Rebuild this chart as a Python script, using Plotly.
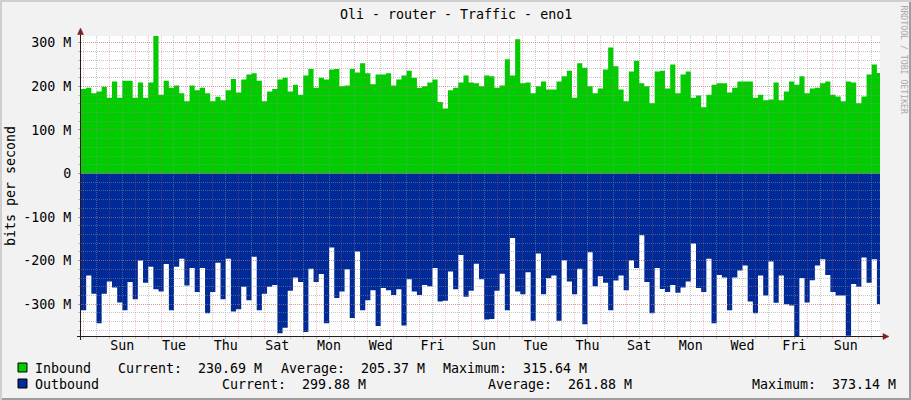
import plotly.graph_objects as go
from datetime import datetime, timedelta

# ---------------- data ----------------
TITLE = "Oli - router - Traffic - eno1"
Y_TITLE = "bits per second"
WATERMARK = "RRDTOOL / TOBI OETIKER"

START = datetime(2024, 3, 1, 21, 38)   # first sample (left edge of graph)
STEP_HOURS = 4.8
RANGE_DAYS = 30.92

INBOUND = [
    194, 197, 184, 188, 199, 174, 211, 174, 213, 213,
    174, 209, 174, 209, 315.64, 181, 213, 197, 202, 184,
    166, 202, 191, 197, 184, 166, 176, 168, 191, 217,
    186, 216, 227, 230, 213, 166, 188, 194, 216, 220,
    188, 204, 181, 225, 240, 197, 220, 216, 239, 240,
    200, 202, 240, 232, 253, 230, 205, 227, 227, 230,
    202, 216, 225, 236, 220, 197, 200, 209, 216, 164,
    149, 191, 197, 209, 225, 209, 207, 200, 225, 223,
    197, 202, 262, 225, 308, 207, 209, 184, 200, 211,
    193, 193, 211, 223, 236, 174, 253, 243, 200, 184,
    195, 239, 289, 246, 193, 166, 234, 259, 207, 200,
    161, 234, 236, 195, 250, 184, 227, 234, 174, 179,
    152, 181, 204, 207, 207, 186, 197, 211, 211, 211,
    174, 181, 168, 170, 209, 168, 188, 211, 204, 223,
    184, 195, 197, 207, 211, 181, 177, 166, 211, 209,
    161, 177, 227, 250, 230.69,
]

OUTBOUND = [
    314, 234, 276, 344, 276, 248, 262, 296, 314, 249,
    289, 200, 251, 214, 266, 271, 208, 314, 214, 196,
    257, 217, 272, 217, 321, 272, 205, 289, 196, 317,
    312, 260, 291, 191, 314, 276, 260, 256, 367, 354,
    269, 239, 249, 364, 219, 249, 231, 344, 170, 286,
    271, 220, 332, 179, 314, 291, 268, 350, 263, 268,
    279, 266, 349, 243, 271, 279, 256, 259, 217, 294,
    292, 225, 266, 187, 283, 269, 207, 243, 335, 334,
    269, 230, 314, 148, 271, 277, 227, 338, 184, 277,
    240, 234, 338, 199, 248, 277, 219, 346, 181, 259,
    236, 251, 314, 246, 234, 268, 199, 217, 142, 249,
    321, 217, 265, 272, 256, 274, 262, 248, 161, 263,
    272, 196, 344, 233, 239, 314, 239, 223, 211, 294,
    321, 234, 280, 202, 297, 234, 300, 303, 373.14, 240,
    296, 245, 211, 197, 233, 272, 280, 280, 372.8, 254,
    260, 193, 251, 197, 299.88,
]

Y_TICKS = [-300, -200, -100, 0, 100, 200, 300]
Y_TICK_TEXT = ["-300 M", "-200 M", "-100 M", "0", "100 M", "200 M", "300 M"]
FIRST_LABEL_NOON = datetime(2024, 3, 3, 12)
DAY_LABELS = ["Sun", "Tue", "Thu", "Sat", "Mon", "Wed", "Fri", "Sun",
              "Tue", "Thu", "Sat", "Mon", "Wed", "Fri", "Sun"]
FIRST_MIDNIGHT = "2024-03-03 00:00"

IN_NAME, OUT_NAME = "Inbound", "Outbound"
IN_STATS = [("Current", 230.69), ("Average", 205.37), ("Maximum", 315.64)]
OUT_STATS = [("Current", 299.88), ("Average", 261.88), ("Maximum", 373.14)]
Y_MIN, Y_MAX = -373.14, 315.64

# ---------------- style ----------------
GREEN = "#00CC00"
BLUE = "#002A97"
BACK = "#F2F2F2"
SHADE_A = "#CFCFCF"
SHADE_B = "#9E9E9E"
GRID = "rgba(143,143,143,0.5)"
MGRID = "rgba(222,79,79,0.36)"
ARROW = "#801F1F"
AXIS = "#1F1F1F"
FONT = "DejaVu Sans Mono"
FS = 13.3

W, H = 911, 400
L, R, T, B = 81, 880, 36, 336


def px(x):
    return (x - L) / (R - L)


def py(y):
    return (B - y) / (B - T)


def nb(s):
    return s.replace(" ", "\u00a0")


times = [START + timedelta(hours=STEP_HOURS * i) for i in range(len(INBOUND) + 1)]
x_range = [START, START + timedelta(days=RANGE_DAYS)]

fig = go.Figure()
fig.add_trace(go.Scatter(
    x=times, y=INBOUND + [INBOUND[-1]], mode="lines", line=dict(width=0, shape="hv", color=GREEN),
    fill="tozeroy", fillcolor=GREEN, name=IN_NAME, showlegend=False, hoverinfo="skip"))
out_neg = [-v for v in OUTBOUND]
fig.add_trace(go.Scatter(
    x=times, y=out_neg + [out_neg[-1]], mode="lines", line=dict(width=0, shape="hv", color=BLUE),
    fill="tozeroy", fillcolor=BLUE, name=OUT_NAME, showlegend=False, hoverinfo="skip"))
# empty trace to create the grid subplot drawn above the areas
fig.add_trace(go.Scatter(x=[], y=[], xaxis="x2", yaxis="y2", showlegend=False, hoverinfo="skip"))

label_vals = [FIRST_LABEL_NOON + timedelta(days=2 * i) for i in range(len(DAY_LABELS))]

fig.update_layout(
    width=W, height=H,
    margin=dict(l=L, r=W - R, t=T, b=H - B, pad=0),
    paper_bgcolor=BACK, plot_bgcolor="rgba(0,0,0,0)",
    font=dict(family=FONT, size=FS, color="black"),
    showlegend=False,
    xaxis=dict(type="date", range=x_range, domain=[0, 1], tickmode="array",
               tickvals=label_vals, ticktext=DAY_LABELS, showgrid=False, zeroline=False,
               showline=False, ticks="", tickfont=dict(size=FS), fixedrange=True),
    yaxis=dict(range=[Y_MIN, Y_MAX], domain=[0, 1], showgrid=False, zeroline=False,
               showticklabels=False, ticks="", showline=False, fixedrange=True),
    xaxis2=dict(type="date", range=x_range, domain=[0, 1], anchor="y2",
                tickmode="linear", tick0=FIRST_MIDNIGHT, dtick=86400000,
                showgrid=True, gridcolor=MGRID, griddash="1px,1px", gridwidth=1,
                showticklabels=False, ticks="outside", ticklen=2, tickcolor=MGRID,
                zeroline=False, showline=False,
                minor=dict(tick0=FIRST_MIDNIGHT, dtick=43200000, showgrid=True,
                           gridcolor=GRID, griddash="1px,1px", gridwidth=1,
                           ticks="outside", ticklen=2, tickcolor=GRID),
                fixedrange=True),
    yaxis2=dict(range=[Y_MIN, Y_MAX], domain=[0, 1], anchor="x2",
                tickmode="array", tickvals=Y_TICKS, ticktext=Y_TICK_TEXT,
                showgrid=True, gridcolor=MGRID, griddash="1px,1px", gridwidth=1,
                ticks="outside", ticklen=2, tickcolor=MGRID, zeroline=False, showline=False,
                ticklabelstandoff=4,
                minor=dict(tick0=0, dtick=20, showgrid=True, gridcolor=GRID,
                           griddash="1px,1px", gridwidth=1, ticks="outside",
                           ticklen=2, tickcolor=GRID),
                fixedrange=True),
)

shapes = []
# canvas
shapes.append(dict(type="rect", xref="paper", yref="paper", x0=0, x1=1, y0=0, y1=1,
                   fillcolor="white", line=dict(width=0), layer="below"))
# frame bevel
shapes.append(dict(type="rect", xref="paper", yref="paper", x0=px(0), x1=px(W), y0=py(0), y1=py(2),
                   fillcolor=SHADE_A, line=dict(width=0)))
shapes.append(dict(type="rect", xref="paper", yref="paper", x0=px(0), x1=px(2), y0=py(0), y1=py(H),
                   fillcolor=SHADE_A, line=dict(width=0)))
shapes.append(dict(type="rect", xref="paper", yref="paper", x0=px(2), x1=px(W), y0=py(H - 2), y1=py(H),
                   fillcolor=SHADE_B, line=dict(width=0)))
shapes.append(dict(type="rect", xref="paper", yref="paper", x0=px(W - 2), x1=px(W), y0=py(2), y1=py(H),
                   fillcolor=SHADE_B, line=dict(width=0)))
# axis lines
shapes.append(dict(type="line", xref="paper", yref="paper", x0=px(77), x1=px(884), y0=py(336.5), y1=py(336.5),
                   line=dict(color=AXIS, width=1)))
shapes.append(dict(type="line", xref="paper", yref="paper", x0=px(80.5), x1=px(80.5), y0=py(340), y1=py(31),
                   line=dict(color=AXIS, width=1)))
# arrows
shapes.append(dict(type="path", xref="paper", yref="paper",
                   path=f"M {px(77.5)} {py(34.5)} L {px(83.5)} {py(34.5)} L {px(80.5)} {py(28)} Z",
                   fillcolor=ARROW, line=dict(color=ARROW, width=0.5)))
shapes.append(dict(type="path", xref="paper", yref="paper",
                   path=f"M {px(883)} {py(333.5)} L {px(883)} {py(339.5)} L {px(889)} {py(336.5)} Z",
                   fillcolor=ARROW, line=dict(color=ARROW, width=0.5)))
# legend boxes
for yc, col in ((367.5, GREEN), (383.5, BLUE)):
    shapes.append(dict(type="rect", xref="paper", yref="paper", x0=px(18), x1=px(27),
                       y0=py(yc + 4.5), y1=py(yc - 4.5), fillcolor=col, line=dict(color="black", width=1)))
fig.update_layout(shapes=shapes)

ann = []


def text(x, y, s, xanchor="left", size=FS, color="black", angle=0):
    ann.append(dict(xref="paper", yref="paper", x=px(x), y=py(y), text=nb(s), showarrow=False,
                    xanchor=xanchor, yanchor="middle", textangle=angle,
                    font=dict(family=FONT, size=size, color=color)))


text(455.5, 14, TITLE, xanchor="center")
text(10, 186, Y_TITLE, xanchor="center", angle=-90)
text(903.5, 60, WATERMARK, xanchor="center", size=8.2, color="#A9A9A9", angle=90)

text(33, 368, IN_NAME)
for (lab, v), x in zip(IN_STATS, (116, 279, 441)):
    text(x, 368, f"{lab}:  {v:.2f} M")
text(33, 384, OUT_NAME)
for (lab, v), x in zip(OUT_STATS, (220, 485.5, 750)):
    text(x, 384, f"{lab}:  {v:.2f} M")

fig.update_layout(annotations=ann)
fig.write_html("out.html", config={"displayModeBar": False},
               post_script="document.body.style.margin='0px';document.body.style.overflow='hidden';")
